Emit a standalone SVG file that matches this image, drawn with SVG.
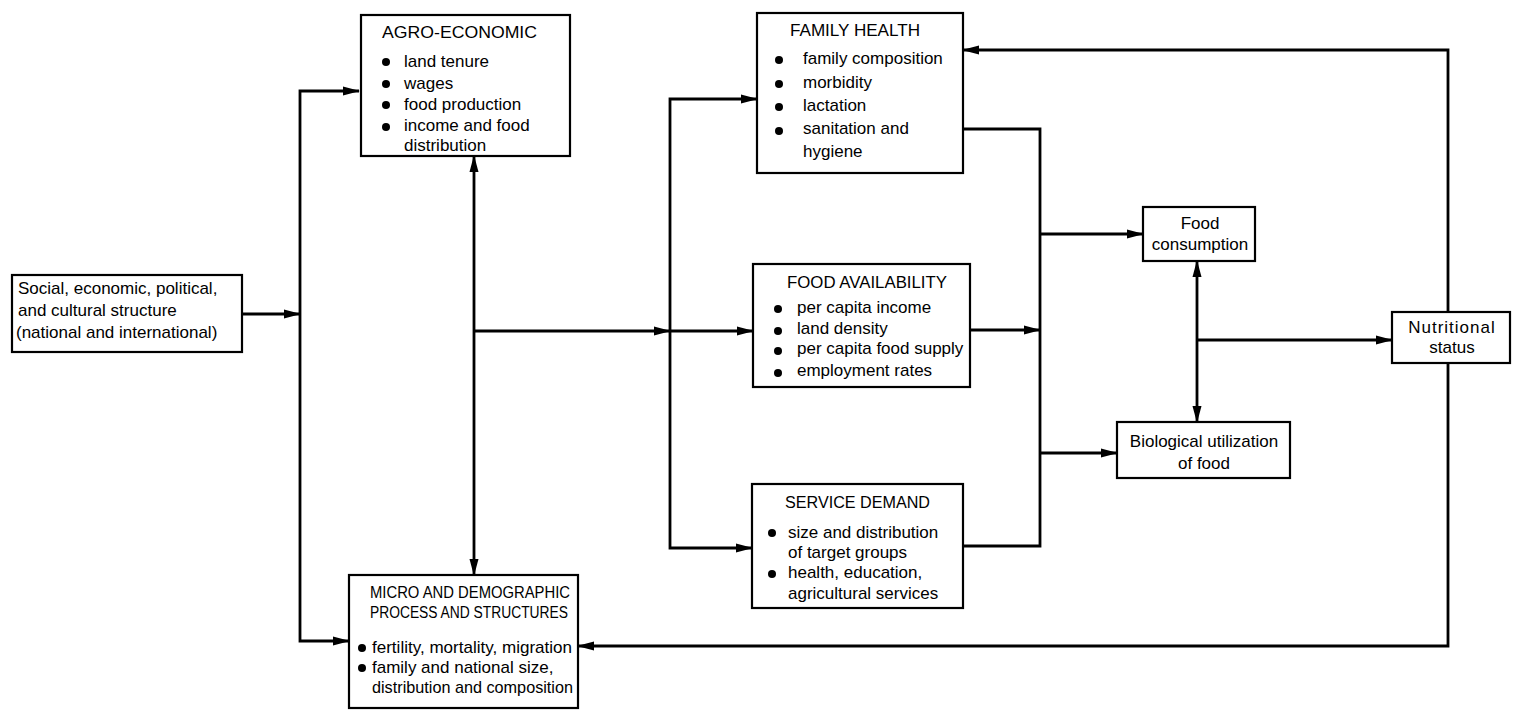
<svg xmlns="http://www.w3.org/2000/svg" width="1513" height="714" viewBox="0 0 1513 714">
<style>
.box{fill:#fff;stroke:#000;stroke-width:2.2}
.t{font-family:"Liberation Sans",Arial,sans-serif;font-size:17px;fill:#000}
.h{font-family:"Liberation Sans",Arial,sans-serif;font-size:16px;fill:#000}
.c{text-anchor:middle}
.w{fill:none;stroke:#000;stroke-width:2.8}
.b{fill:#000}
</style>
<defs>
<marker id="ah" markerWidth="17" markerHeight="10" refX="16" refY="5" orient="auto-start-reverse" markerUnits="userSpaceOnUse">
<path d="M0,0.5 L17,5 L0,9.5 z" fill="#000"/>
</marker>
</defs>
<rect width="1513" height="714" fill="#fff"/>
<g id="connectors">
<path class="w" d="M242,314 H300" marker-end="url(#ah)"/>
<path class="w" d="M359,91 H300 V641 H349" marker-start="url(#ah)" marker-end="url(#ah)"/>
<path class="w" d="M474,156 V575" marker-start="url(#ah)" marker-end="url(#ah)"/>
<path class="w" d="M474,331 H670" marker-end="url(#ah)"/>
<path class="w" d="M757,99 H670 V548 H752" marker-start="url(#ah)" marker-end="url(#ah)"/>
<path class="w" d="M670,331 H753" marker-end="url(#ah)"/>
<path class="w" d="M963,129 H1040 V546 H963"/>
<path class="w" d="M970,330 H1040" marker-end="url(#ah)"/>
<path class="w" d="M1040,234 H1143" marker-end="url(#ah)"/>
<path class="w" d="M1040,453 H1117" marker-end="url(#ah)"/>
<path class="w" d="M1197,261 V422" marker-start="url(#ah)" marker-end="url(#ah)"/>
<path class="w" d="M1197,340 H1392" marker-end="url(#ah)"/>
<path class="w" d="M1448,312 V50 H963" marker-end="url(#ah)"/>
<path class="w" d="M1448,363 V646 H578" marker-end="url(#ah)"/>
</g>
<g id="social">
<rect class="box" x="12" y="275" width="230" height="77"/>
<text class="t" x="18" y="294">Social, economic, political,</text>
<text class="t" x="18" y="316">and cultural structure</text>
<text class="t" x="16" y="338">(national and international)</text>
</g>
<g id="agro">
<rect class="box" x="361" y="15" width="209" height="141"/>
<text class="h" x="382" y="38" textLength="155" lengthAdjust="spacingAndGlyphs">AGRO-ECONOMIC</text>
<circle class="b" cx="386" cy="62" r="4"/><text class="t" x="404" y="67">land tenure</text>
<circle class="b" cx="386" cy="84" r="4"/><text class="t" x="404" y="89">wages</text>
<circle class="b" cx="386" cy="105" r="4"/><text class="t" x="404" y="110">food production</text>
<circle class="b" cx="386" cy="127" r="4"/><text class="t" x="404" y="131">income and food</text>
<text class="t" x="404" y="151">distribution</text>
</g>
<g id="micro">
<rect class="box" x="349" y="575" width="229" height="133"/>
<text class="h" x="370" y="598" textLength="200" lengthAdjust="spacingAndGlyphs">MICRO AND DEMOGRAPHIC</text>
<text class="h" x="370" y="618" textLength="198" lengthAdjust="spacingAndGlyphs">PROCESS AND STRUCTURES</text>
<circle class="b" cx="362" cy="648" r="4"/><text class="t" x="372" y="653" textLength="200" lengthAdjust="spacingAndGlyphs">fertility, mortality, migration</text>
<circle class="b" cx="362" cy="668" r="4"/><text class="t" x="372" y="673">family and national size,</text>
<text class="t" x="372" y="693" textLength="201" lengthAdjust="spacingAndGlyphs">distribution and composition</text>
</g>
<g id="familyhealth">
<rect class="box" x="757" y="13" width="206" height="160"/>
<text class="h" x="790" y="36" textLength="130" lengthAdjust="spacingAndGlyphs">FAMILY HEALTH</text>
<circle class="b" cx="779" cy="60" r="4"/><text class="t" x="803" y="64">family composition</text>
<circle class="b" cx="779" cy="84" r="4"/><text class="t" x="803" y="88">morbidity</text>
<circle class="b" cx="779" cy="107" r="4"/><text class="t" x="803" y="111">lactation</text>
<circle class="b" cx="779" cy="131" r="4"/><text class="t" x="803" y="134">sanitation and</text>
<text class="t" x="803" y="157">hygiene</text>
</g>
<g id="foodavailability">
<rect class="box" x="753" y="264" width="217" height="123"/>
<text class="h" x="787" y="288" textLength="160" lengthAdjust="spacingAndGlyphs">FOOD AVAILABILITY</text>
<circle class="b" cx="778" cy="309" r="4"/><text class="t" x="797" y="313">per capita income</text>
<circle class="b" cx="778" cy="331" r="4"/><text class="t" x="797" y="334">land density</text>
<circle class="b" cx="778" cy="351" r="4"/><text class="t" x="797" y="354">per capita food supply</text>
<circle class="b" cx="778" cy="373" r="4"/><text class="t" x="797" y="376">employment rates</text>
</g>
<g id="servicedemand">
<rect class="box" x="752" y="484" width="211" height="124"/>
<text class="h" x="785" y="508" textLength="145" lengthAdjust="spacingAndGlyphs">SERVICE DEMAND</text>
<circle class="b" cx="772" cy="533" r="4"/><text class="t" x="788" y="538">size and distribution</text>
<text class="t" x="788" y="558">of target groups</text>
<circle class="b" cx="772" cy="574" r="4"/><text class="t" x="788" y="578">health, education,</text>
<text class="t" x="788" y="599">agricultural services</text>
</g>
<g id="foodconsumption">
<rect class="box" x="1143" y="207" width="112" height="54"/>
<text class="t c" x="1200" y="229">Food</text>
<text class="t c" x="1200" y="250">consumption</text>
</g>
<g id="biological">
<rect class="box" x="1117" y="422" width="173" height="56"/>
<text class="t c" x="1204" y="447">Biological utilization</text>
<text class="t c" x="1204" y="469">of food</text>
</g>
<g id="nutritional">
<rect class="box" x="1392" y="312" width="118" height="51"/>
<text class="t c" x="1452" y="333" letter-spacing="1">Nutritional</text>
<text class="t c" x="1452" y="353">status</text>
</g>
</svg>
